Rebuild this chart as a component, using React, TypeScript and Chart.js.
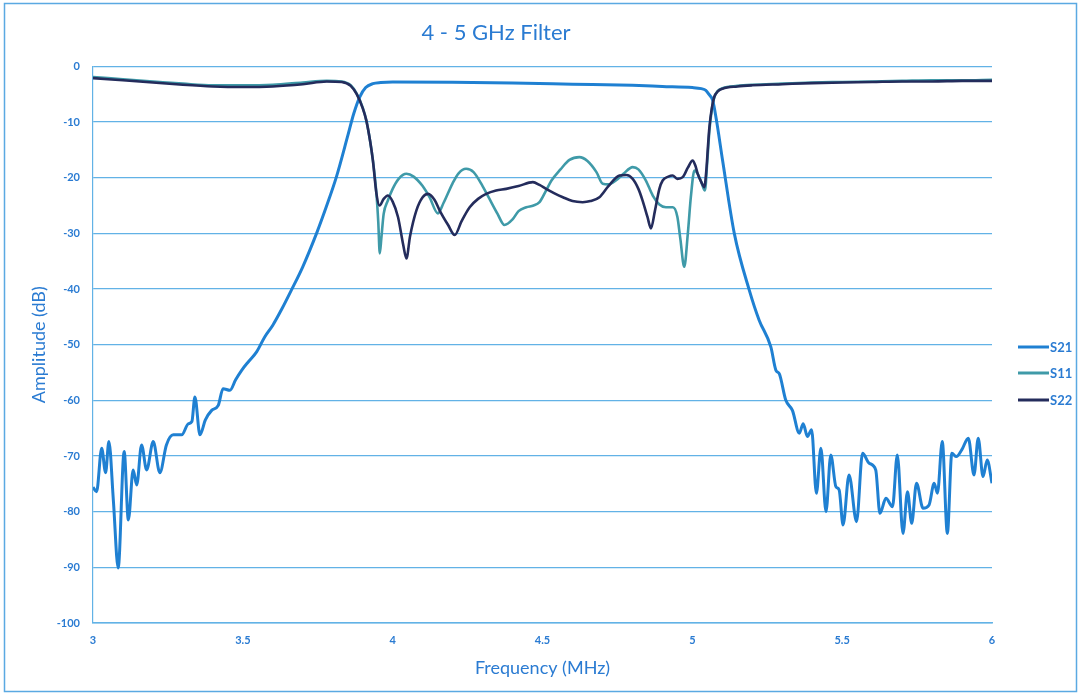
import React, { useEffect, useRef } from "react";
import { Chart, registerables } from "chart.js";

Chart.register(...registerables);

const TITLE = "4 - 5 GHz Filter";
const X_TITLE = "Frequency (MHz)";
const Y_TITLE = "Amplitude (dB)";
const SERIES_NAMES = ["S21", "S11", "S22"];

// S21 (transmission)
const s21Freq = [
  3.0, 3.012, 3.029, 3.042, 3.053, 3.068, 3.084, 3.104, 3.118, 3.134, 3.146, 3.162, 3.179, 3.201, 3.223, 3.245,
  3.268, 3.296, 3.318, 3.33, 3.34, 3.357, 3.375, 3.396, 3.418, 3.434, 3.457, 3.476, 3.496, 3.518, 3.546, 3.573,
  3.6, 3.63, 3.662, 3.7, 3.746, 3.78, 3.812, 3.85, 3.87, 3.89, 3.91, 3.934, 3.96, 4.0, 4.2, 4.4, 4.6, 4.8, 4.9,
  5.0, 5.03, 5.045, 5.055, 5.068, 5.08, 5.101, 5.14, 5.19, 5.223, 5.262, 5.279, 5.29, 5.312, 5.334, 5.357, 5.37,
  5.384, 5.398, 5.414, 5.429, 5.446, 5.462, 5.479, 5.49, 5.503, 5.523, 5.548, 5.568, 5.59, 5.612, 5.626, 5.646,
  5.668, 5.684, 5.703, 5.718, 5.732, 5.748, 5.77, 5.79, 5.807, 5.818, 5.834, 5.851, 5.866, 5.881, 5.899, 5.921,
  5.94, 5.954, 5.97, 5.984, 6.0,
];
const s21Db = [
  -75.6, -76.4, -68.6, -73, -67.4, -78, -90.1, -69.2, -81.5, -72.5, -75.2, -68, -72.5, -67.4, -73, -68,
  -66.2, -66.2, -64.2, -63.8, -59.4, -66.2, -63.5, -61.8, -60.9, -57.9, -58.2, -56.3, -54.6, -53.1, -51.3, -48.6,
  -46.5, -43.6, -40.2, -36, -30, -25, -19.9, -12.5, -8.5, -5.5, -3.8, -3.1, -2.9, -2.8, -2.85, -3.0, -3.2, -3.4, -3.6,
  -3.8, -4.0, -4.3, -5.0, -6.1, -9.5, -16.9, -30, -40.2, -45.6, -50.4, -54.6, -55.2, -60, -61.8, -65.9, -64.2,
  -66.5, -65.3, -76.7, -68.6, -80, -69.8, -75.5, -76.1, -82.4, -73.4, -81.8, -69.5, -71.3, -72.5, -80.3, -77.6,
  -79.1, -69.8, -83.9, -76.4, -82.1, -74.9, -79.4, -78.8, -74.9, -76.7, -67.4, -83.9, -69.5, -70.1, -68.9, -66.8,
  -73.4, -66.8, -73.7, -70.7, -74.9,
];

// S11 (input reflection)
const s11Freq = [
  3.0, 3.1, 3.2, 3.3, 3.4, 3.5, 3.6, 3.7, 3.78, 3.83, 3.86, 3.88, 3.9, 3.912, 3.925, 3.934, 3.946, 3.952, 3.957,
  3.962, 3.97, 3.984, 4.0, 4.02, 4.046, 4.07, 4.1, 4.123, 4.151, 4.17, 4.2, 4.22, 4.245, 4.27, 4.3, 4.32, 4.35,
  4.373, 4.4, 4.42, 4.446, 4.47, 4.49, 4.51, 4.53, 4.56, 4.59, 4.623, 4.65, 4.68, 4.701, 4.72, 4.745, 4.77, 4.801,
  4.82, 4.845, 4.868, 4.89, 4.912, 4.935, 4.95, 4.96, 4.973, 4.985, 4.995, 5.007, 5.018, 5.03, 5.042, 5.05, 5.057,
  5.065, 5.073, 5.085, 5.101, 5.15, 5.2, 5.3, 5.4, 5.5, 5.6, 5.7, 5.8, 5.9, 6.0,
];
const s11Db = [
  -1.9, -2.3, -2.7, -3.1, -3.4, -3.4, -3.3, -2.9, -2.6, -2.7, -3.4, -4.9, -7.4, -9.7, -13.5, -16.9, -23, -28, -33.6,
  -31, -26.5, -24.1, -22, -20.2, -19.3, -19.8, -21.5, -23.5, -26.4, -24.5, -21, -19.2, -18.4, -19, -21.5, -23.5, -26.5,
  -28.5, -27.5, -26, -25.3, -25, -24.4, -22.5, -20.5, -18.5, -16.8, -16.3, -17, -19, -21.1, -21.2, -20.5, -19.3, -18.1,
  -18.5, -20.5, -23.2, -24.8, -25.3, -25.3, -27, -31, -36, -30, -23.5, -18.7, -19.3, -20.8, -22.3, -17, -11.5,
  -7.8, -5.6, -4.4, -3.9, -3.5, -3.3, -3.1, -2.9, -2.8, -2.7, -2.6, -2.5, -2.5, -2.4,
];

// S22 (output reflection)
const s22Freq = [
  3.0, 3.1, 3.2, 3.3, 3.4, 3.5, 3.6, 3.7, 3.78, 3.83, 3.86, 3.88, 3.9, 3.912, 3.925, 3.934, 3.946, 3.956, 3.97,
  3.984, 4.0, 4.018, 4.035, 4.046, 4.058, 4.079, 4.1, 4.118, 4.14, 4.157, 4.185, 4.207, 4.23, 4.257, 4.285, 4.312,
  4.345, 4.379, 4.42, 4.468, 4.49, 4.512, 4.54, 4.568, 4.6, 4.634, 4.66, 4.69, 4.72, 4.757, 4.78, 4.801, 4.82, 4.834,
  4.85, 4.862, 4.875, 4.89, 4.901, 4.92, 4.934, 4.95, 4.968, 4.985, 5.001, 5.01, 5.018, 5.03, 5.04, 5.047, 5.052,
  5.057, 5.065, 5.073, 5.085, 5.101, 5.15, 5.2, 5.3, 5.4, 5.5, 5.6, 5.7, 5.8, 5.9, 6.0,
];
const s22Db = [
  -2.1, -2.5, -2.9, -3.3, -3.6, -3.7, -3.6, -3.2, -2.7, -2.8, -3.5, -5, -7.5, -9.7, -13.5, -16.9, -22.9, -25, -23.8,
  -23.2, -24.3, -27.1, -32, -34.5, -30.5, -25.9, -23.5, -22.9, -24, -25.9, -28.5, -30.3, -27.8, -25.3, -23.8, -22.9,
  -22.3, -22.0, -21.5, -20.8, -21.3, -22.0, -22.8, -23.5, -24.2, -24.4, -24.2, -23.5, -21.5, -19.6, -19.5, -20.2, -22, -24.1,
  -27, -29.1, -26, -22, -20.5, -19.8, -19.6, -20.2, -19.9, -18.2, -16.9, -17.8, -19.3, -20.8, -21.7, -18.5, -14.5,
  -10.9, -7.5, -5.5, -4.5, -4.0, -3.6, -3.4, -3.2, -3.0, -2.9, -2.8, -2.7, -2.7, -2.6, -2.6,
];

const Y_MIN = -100;
const Y_MAX = 0;
const Y_STEP = 10;
const X_MIN = 3;
const X_MAX = 6;
const X_STEP = 0.5;

const BLUE_TEXT = "#2a7bd2";
const GRID = "#62b2e6";
const COLORS = ["#1f80d2", "#3f9aa8", "#242c5c"];
const WIDTHS = [3, 2.6, 2.6];

const zip = (xs: number[], ys: number[]) => xs.map((x, i) => ({ x, y: ys[i] }));

const framePlugin = {
  id: "frame",
  beforeDraw(chart: any) {
    const { ctx, width, height } = chart;
    ctx.save();
    ctx.fillStyle = "#ffffff";
    ctx.fillRect(0, 0, width, height);
    ctx.strokeStyle = "#5aa9e2";
    ctx.lineWidth = 1.5;
    ctx.strokeRect(4.5, 3.5, width - 7, height - 8);
    ctx.restore();
  },
};

const legendPlugin = {
  id: "customLegend",
  afterDraw(chart: any) {
    const { ctx } = chart;
    const x0 = 1018;
    const ys = [347, 373, 400];
    ctx.save();
    chart.data.datasets.forEach((ds: any, i: number) => {
      ctx.strokeStyle = ds.borderColor;
      ctx.lineWidth = 3;
      ctx.beginPath();
      ctx.moveTo(x0, ys[i]);
      ctx.lineTo(x0 + 31, ys[i]);
      ctx.stroke();
      ctx.fillStyle = BLUE_TEXT;
      ctx.font = "bold 13px Lato";
      ctx.textBaseline = "middle";
      ctx.textAlign = "left";
      ctx.fillText(ds.label, x0 + 32, ys[i] + 1);
    });
    ctx.restore();
  },
};

export default function App() {
  const ref = useRef<HTMLCanvasElement>(null);

  useEffect(() => {
    if (!ref.current) return;
    const seriesData = [zip(s21Freq, s21Db), zip(s11Freq, s11Db), zip(s22Freq, s22Db)];
    const order = [1, 2, 0];
    const chart = new Chart(ref.current, {
      type: "line",
      data: {
        datasets: SERIES_NAMES.map((name, i) => ({
          label: name,
          data: seriesData[i],
          borderColor: COLORS[i],
          backgroundColor: COLORS[i],
          borderWidth: WIDTHS[i],
          pointRadius: 0,
          cubicInterpolationMode: "monotone",
          fill: false,
          order: order[i],
        })),
      },
      options: {
        responsive: false,
        animation: false,
        devicePixelRatio: 1,
        layout: { padding: { left: 0, right: 87, top: 0, bottom: 0 } },
        plugins: {
          legend: { display: false },
          tooltip: { enabled: false },
          title: {
            display: true,
            text: TITLE,
            color: BLUE_TEXT,
            font: { family: "Lato", size: 22, weight: "normal" },
            padding: { top: 20, bottom: 20 },
          },
        },
        scales: {
          x: {
            type: "linear",
            min: X_MIN,
            max: X_MAX,
            grid: { display: false, drawTicks: false },
            border: { display: true, color: GRID, width: 1.5 },
            ticks: {
              stepSize: X_STEP,
              color: BLUE_TEXT,
              font: { family: "Lato", size: 11, weight: "bold" },
              padding: 11,
              maxRotation: 0,
              callback: (v: any) => String(v),
            },
            title: {
              display: true,
              text: X_TITLE,
              color: BLUE_TEXT,
              font: { family: "Lato", size: 18, weight: "normal" },
              padding: { top: 0, bottom: 17 },
            },
            afterFit: (s: any) => {
              s.height = 73;
            },
          },
          y: {
            type: "linear",
            min: Y_MIN,
            max: Y_MAX,
            grid: { color: GRID, lineWidth: 1.2, drawTicks: false },
            border: { display: true, color: GRID, width: 1.2 },
            ticks: {
              stepSize: Y_STEP,
              color: BLUE_TEXT,
              font: { family: "Lato", size: 11, weight: "bold" },
              padding: 13,
              callback: (v: any) => String(v),
            },
            title: {
              display: true,
              text: Y_TITLE,
              color: BLUE_TEXT,
              font: { family: "Lato", size: 18, weight: "normal" },
              padding: { top: 28, bottom: 0 },
            },
            afterFit: (s: any) => {
              s.width = 93;
            },
          },
        },
      },
      plugins: [framePlugin, legendPlugin],
    });
    return () => chart.destroy();
  }, []);

  return (
    <div style={{ position: "fixed", left: 0, top: 0, width: 1079, height: 696, background: "#fff" }}>
      <canvas ref={ref} width={1079} height={696} style={{ display: "block" }} />
    </div>
  );
}
